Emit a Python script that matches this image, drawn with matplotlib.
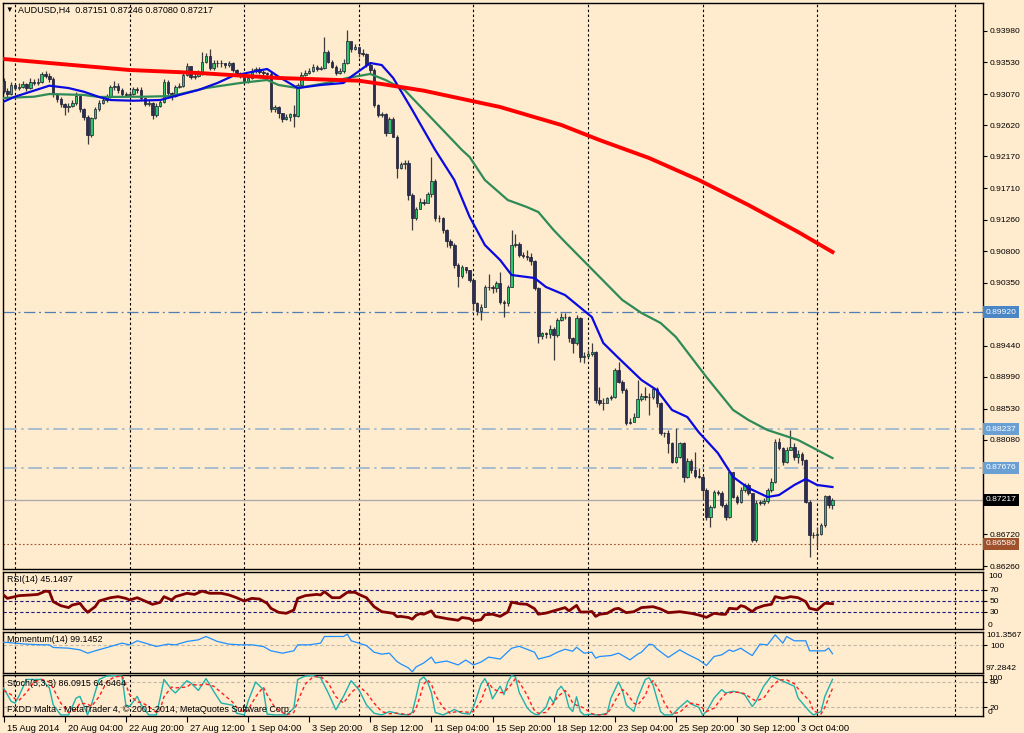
import matplotlib
matplotlib.use("Agg")
import matplotlib.pyplot as plt
from matplotlib.transforms import ScaledTranslation

plt.rcParams['font.family'] = ['Liberation Sans', 'DejaVu Sans']

# ---------------- data ----------------
first_open = 0.93264
closes = [
    0.93119, 0.93071, 0.93201, 0.93163, 0.93177, 0.93215, 0.93153, 0.93249, 0.93225, 0.93249,
    0.93360, 0.93331, 0.93283, 0.93071, 0.92994, 0.92927, 0.92879, 0.92898, 0.92936, 0.93042,
    0.92850, 0.92734, 0.92480, 0.92720, 0.92850, 0.92946, 0.92985, 0.93023, 0.93167, 0.93187,
    0.93129, 0.93071, 0.93062, 0.93071, 0.93143, 0.93129, 0.93009, 0.92927, 0.92946, 0.92768,
    0.92898, 0.92961, 0.93249, 0.93081, 0.93042, 0.93177, 0.93187, 0.93345, 0.93480, 0.93312,
    0.93331, 0.93379, 0.93538, 0.93620, 0.93442, 0.93523, 0.93514, 0.93523, 0.93490, 0.93514,
    0.93417, 0.93379, 0.93331, 0.93249, 0.93297, 0.93408, 0.93427, 0.93393, 0.93369, 0.93355,
    0.92850, 0.92879, 0.92792, 0.92706, 0.92734, 0.92778, 0.92754, 0.93201, 0.93345, 0.93369,
    0.93408, 0.93456, 0.93437, 0.93446, 0.93682, 0.93538, 0.93466, 0.93379, 0.93408, 0.93514,
    0.93841, 0.93716, 0.93754, 0.93658, 0.93648, 0.93490, 0.93417, 0.92912, 0.92768, 0.92783,
    0.92504, 0.92706, 0.92455, 0.91999, 0.92061, 0.92080, 0.91614, 0.91277, 0.91407, 0.91518,
    0.91503, 0.91628, 0.91820, 0.91277, 0.91277, 0.91109, 0.90955, 0.90892, 0.90604, 0.90445,
    0.90570, 0.90531, 0.90387, 0.90050, 0.89945, 0.90002, 0.90281, 0.90291, 0.90267, 0.90339,
    0.90074, 0.90050, 0.90291, 0.90892, 0.90907, 0.90748, 0.90733, 0.90724, 0.90666, 0.90267,
    0.89579, 0.89617, 0.89603, 0.89675, 0.89593, 0.89810, 0.89848, 0.89857, 0.89545, 0.89473,
    0.89833, 0.89280, 0.89290, 0.89319, 0.89352, 0.88655, 0.88617, 0.88607, 0.88679, 0.88693,
    0.89088, 0.88920, 0.88799, 0.88318, 0.88342, 0.88414, 0.88665, 0.88718, 0.88703, 0.88693,
    0.88809, 0.88607, 0.88174, 0.88174, 0.88030, 0.87765, 0.87837, 0.88030, 0.87549, 0.87780,
    0.87645, 0.87558, 0.87549, 0.87356, 0.86972, 0.87106, 0.87323, 0.87318, 0.87140, 0.86972,
    0.87621, 0.87260, 0.87188, 0.87357, 0.87424, 0.87308, 0.86635, 0.87174, 0.87174, 0.87203,
    0.87357, 0.87477, 0.88054, 0.87958, 0.87765, 0.87934, 0.87972, 0.87838, 0.87876, 0.87789,
    0.87188, 0.86707, 0.86707, 0.86722, 0.86852, 0.87270, 0.87140, 0.87217]
highs = [
    0.93297, 0.93153, 0.93249, 0.93215, 0.93235, 0.93264, 0.93235, 0.93297, 0.93283, 0.93297,
    0.93393, 0.93408, 0.93369, 0.93312, 0.93090, 0.93023, 0.92946, 0.92936, 0.92985, 0.93105,
    0.93057, 0.92864, 0.92768, 0.92744, 0.92888, 0.92985, 0.93033, 0.93071, 0.93201, 0.93264,
    0.93225, 0.93153, 0.93105, 0.93119, 0.93177, 0.93177, 0.93177, 0.93009, 0.92985, 0.92961,
    0.92936, 0.92994, 0.93283, 0.93273, 0.93105, 0.93201, 0.93225, 0.93369, 0.93514, 0.93466,
    0.93379, 0.93417, 0.93682, 0.93658, 0.93716, 0.93562, 0.93562, 0.93562, 0.93523, 0.93552,
    0.93538, 0.93427, 0.93393, 0.93345, 0.93331, 0.93442, 0.93466, 0.93456, 0.93417, 0.93393,
    0.93393, 0.92912, 0.92898, 0.92802, 0.92778, 0.92802, 0.92912, 0.93225, 0.93393, 0.93417,
    0.93442, 0.93504, 0.93490, 0.93475, 0.93898, 0.93706, 0.93562, 0.93490, 0.93442, 0.93571,
    0.93995, 0.93826, 0.93793, 0.93682, 0.93716, 0.93668, 0.93523, 0.93442, 0.92927, 0.92816,
    0.92802, 0.92744, 0.92734, 0.92480, 0.92095, 0.92119, 0.92119, 0.91638, 0.91445, 0.91566,
    0.91551, 0.91662, 0.92167, 0.91840, 0.91325, 0.91301, 0.91118, 0.90974, 0.90916, 0.90628,
    0.90604, 0.90579, 0.90531, 0.90363, 0.90074, 0.90041, 0.90315, 0.90474, 0.90315, 0.90377,
    0.90507, 0.90098, 0.90315, 0.91109, 0.91051, 0.90940, 0.90796, 0.90820, 0.90772, 0.90676,
    0.90291, 0.89642, 0.89642, 0.89738, 0.89714, 0.89834, 0.89906, 0.89906, 0.89867, 0.89569,
    0.89882, 0.89857, 0.89352, 0.89376, 0.89473, 0.89367, 0.88838, 0.88679, 0.88703, 0.88727,
    0.89112, 0.89208, 0.88944, 0.88823, 0.88390, 0.88463, 0.88944, 0.88751, 0.88847, 0.88751,
    0.88847, 0.88838, 0.88631, 0.88198, 0.88222, 0.88054, 0.88246, 0.88054, 0.88054, 0.87813,
    0.87799, 0.87909, 0.87669, 0.87573, 0.87381, 0.87140, 0.87357, 0.87357, 0.87347, 0.87164,
    0.87645, 0.87621, 0.87284, 0.87405, 0.87462, 0.87453, 0.87308, 0.87212, 0.87212, 0.87236,
    0.87381, 0.87525, 0.88088, 0.88102, 0.87982, 0.87982, 0.88222, 0.88030, 0.87934, 0.87910,
    0.87799, 0.87212, 0.86755, 0.86827, 0.86876, 0.87284, 0.87284, 0.87246]
lows = [
    0.93090, 0.93023, 0.93057, 0.93129, 0.93129, 0.93153, 0.93119, 0.93139, 0.93196, 0.93201,
    0.93225, 0.93297, 0.93249, 0.93033, 0.92961, 0.92879, 0.92768, 0.92816, 0.92879, 0.92912,
    0.92816, 0.92696, 0.92350, 0.92455, 0.92706, 0.92831, 0.92927, 0.92961, 0.93009, 0.93129,
    0.93090, 0.93033, 0.93033, 0.93042, 0.93052, 0.93090, 0.92985, 0.92898, 0.92898, 0.92706,
    0.92744, 0.92879, 0.92936, 0.93057, 0.92985, 0.93023, 0.93153, 0.93167, 0.93331, 0.93283,
    0.93283, 0.93312, 0.93345, 0.93523, 0.93417, 0.93417, 0.93466, 0.93456, 0.93442, 0.93466,
    0.93393, 0.93345, 0.93297, 0.93225, 0.93235, 0.93283, 0.93369, 0.93360, 0.93331, 0.93321,
    0.92816, 0.92816, 0.92720, 0.92672, 0.92696, 0.92686, 0.92600, 0.92744, 0.93187, 0.93331,
    0.93360, 0.93393, 0.93408, 0.93417, 0.93427, 0.93514, 0.93442, 0.93345, 0.93360, 0.93379,
    0.93504, 0.93682, 0.93706, 0.93600, 0.93620, 0.93466, 0.93379, 0.92888, 0.92734, 0.92734,
    0.92465, 0.92513, 0.92446, 0.91854, 0.91984, 0.91984, 0.91542, 0.91109, 0.91253, 0.91445,
    0.91465, 0.91541, 0.91590, 0.91243, 0.91229, 0.91060, 0.90868, 0.90844, 0.90555, 0.90281,
    0.90411, 0.90483, 0.90363, 0.89954, 0.89882, 0.89810, 0.89993, 0.90243, 0.90195, 0.90219,
    0.90041, 0.89858, 0.90012, 0.90281, 0.90868, 0.90714, 0.90700, 0.90676, 0.90604, 0.90243,
    0.89483, 0.89531, 0.89545, 0.89545, 0.89233, 0.89569, 0.89800, 0.89819, 0.89497, 0.89328,
    0.89449, 0.89208, 0.89184, 0.89280, 0.89290, 0.88617, 0.88583, 0.88511, 0.88607, 0.88655,
    0.88679, 0.88895, 0.88751, 0.88294, 0.88309, 0.88357, 0.88405, 0.88645, 0.88655, 0.88439,
    0.88665, 0.88559, 0.88150, 0.88126, 0.87885, 0.87741, 0.87751, 0.87813, 0.87477, 0.87525,
    0.87597, 0.87525, 0.87525, 0.87212, 0.86924, 0.86827, 0.87092, 0.87284, 0.87116, 0.86924,
    0.86948, 0.87236, 0.87155, 0.87164, 0.87333, 0.87284, 0.86611, 0.86611, 0.87140, 0.87140,
    0.87174, 0.87333, 0.87453, 0.87934, 0.87717, 0.87741, 0.87934, 0.87789, 0.87741, 0.87717,
    0.87164, 0.86395, 0.86659, 0.86539, 0.86707, 0.86827, 0.87092, 0.87080]

# moving averages read at sample bars
red_idx = [0, 12, 33, 51, 72, 93, 99, 110, 130, 146, 156, 169, 182, 195, 208, 217]
red_val = [0.93576, 0.93518, 0.93417, 0.93374, 0.93302, 0.93263, 0.93215, 0.93119,
           0.92883, 0.92624, 0.92407, 0.92147, 0.91830, 0.91469, 0.91080, 0.90791]
blue_idx = [0, 3, 12, 17, 21, 25, 28, 34, 41, 45, 51, 56, 60, 64, 69, 72, 77, 83, 89, 91,
            96, 99, 102, 107, 110, 113, 118, 122, 126, 130, 133, 139, 142, 147, 154, 157, 161,
            167, 171, 175, 179, 182, 187, 191, 195, 200, 203, 207, 210, 213, 217]
blue_val = [0.92960, 0.93032, 0.93191, 0.93157, 0.93104, 0.93028, 0.92984, 0.92974, 0.92984,
            0.93042, 0.93129, 0.93230, 0.93331, 0.93378, 0.93432, 0.93321, 0.93157, 0.93201,
            0.93230, 0.93321, 0.93518, 0.93489, 0.93302, 0.92840, 0.92551, 0.92263, 0.91830,
            0.91300, 0.90892, 0.90675, 0.90459, 0.90416, 0.90286, 0.90170, 0.89853, 0.89478,
            0.89261, 0.88944, 0.88799, 0.88511, 0.88410, 0.88190, 0.87890, 0.87544, 0.87385,
            0.87256, 0.87284, 0.87429, 0.87515, 0.87429, 0.87400]
green_idx = [0, 8, 12, 21, 25, 37, 44, 53, 62, 69, 72, 77, 85, 90, 96, 100, 105, 110, 120,
             122, 126, 132, 137, 140, 144, 147, 162, 167, 172, 176, 184, 191, 195, 200, 204,
             208, 213, 217]
green_val = [0.93013, 0.93032, 0.93071, 0.93057, 0.93028, 0.93032, 0.93042, 0.93157, 0.93230,
             0.93273, 0.93201, 0.93157, 0.93234, 0.93302, 0.93360, 0.93273, 0.93129, 0.92840,
             0.92263, 0.92162, 0.91830, 0.91541, 0.91440, 0.91368, 0.91108, 0.90935, 0.90098,
             0.89911, 0.89767, 0.89565, 0.88987, 0.88511, 0.88367, 0.88222, 0.88150, 0.88078,
             0.87934, 0.87818]

rsi_idx = [0, 1, 3, 4, 7, 9, 11, 12, 13, 15, 17, 18, 20, 21, 22, 24, 25, 28, 30, 32, 33, 35,
           37, 39, 41, 42, 44, 45, 48, 50, 52, 54, 57, 59, 61, 63, 65, 67, 69, 70, 72, 74, 76,
           77, 79, 82, 83, 84, 86, 88, 90, 92, 93, 95, 97, 99, 102, 103, 104, 106, 107, 108,
           109, 110, 112, 113, 116, 119, 120, 122, 123, 125, 126, 128, 130, 132, 133, 135, 137,
           139, 140, 142, 145, 147, 148, 150, 151, 153, 154, 155, 156, 158, 160, 161, 163, 165,
           167, 170, 172, 174, 177, 180, 182, 184, 186, 188, 189, 190, 192, 193, 194, 196, 197,
           199, 201, 202, 204, 205, 206, 208, 210, 211, 213, 214, 215, 217]
rsi_val = [60.9, 54.8, 57.9, 59.7, 60.9, 62, 68, 67, 48.8, 41.5, 38, 42.7, 45.8, 36.7, 29.4,
           39.7, 50, 56, 57.9, 54.8, 51.8, 56, 50, 43.9, 47.6, 57.9, 51.8, 57.9, 64, 62, 68, 64,
           64, 61, 56, 50, 54.8, 53.6, 45.8, 36.7, 29.4, 27.6, 33.6, 54.8, 59.7, 62, 61, 67, 56,
           56, 65.8, 65.8, 62, 56, 39.7, 30.6, 27.6, 21.5, 22, 20, 17, 24, 27, 26, 32, 22, 18,
           15, 20, 18, 14, 16, 25, 26, 22, 30, 48, 45, 44, 36, 26, 28, 34, 38, 32, 42, 30, 30,
           31, 22, 25.8, 27.6, 35.5, 36.7, 28.8, 30.6, 38, 39.7, 35.5, 28.8, 30.6, 27.6, 24.5,
           20.3, 27.6, 25.8, 25.8, 36.7, 35.5, 41.5, 39.7, 30.6, 36.7, 41.5, 44, 57.9, 54.8, 56,
           57.9, 56, 48.8, 36.7, 33.6, 39.7, 45.8, 45.1497]

mom_idx = [0, 3, 6, 10, 12, 13, 17, 20, 22, 24, 28, 31, 33, 35, 38, 40, 43, 45, 48, 51, 53,
           56, 59, 62, 65, 68, 70, 73, 76, 77, 80, 83, 84, 89, 90, 91, 93, 95, 97, 99, 101,
           103, 104, 106, 107, 108, 110, 112, 113, 116, 119, 121, 123, 125, 127, 130, 133, 135,
           137, 139, 140, 143, 145, 147, 149, 150, 152, 154, 155, 156, 159, 161, 164, 166, 167,
           169, 170, 171, 174, 177, 179, 182, 184, 186, 188, 190, 191, 193, 194, 196, 198, 200,
           202, 204, 205, 207, 209, 210, 211, 215, 216, 217]
mom_val = [100.32, 100.22, 100.12, 100.05, 100.05, 99.78, 99.71, 99.54, 99.20, 99.44, 99.88,
           100.22, 100.05, 100.46, 100.12, 99.88, 100.12, 100.05, 100.39, 100.56, 100.90, 100.39,
           100.12, 100.05, 100.05, 99.88, 99.44, 99.20, 99.44, 100.05, 100.05, 100.22, 100.90,
           100.90, 101.14, 100.46, 100.22, 99.98, 99.30, 99.10, 99.20, 98.35, 98.1, 97.7, 97.3,
           97.8, 98.2, 98.8, 98.2, 98.4, 98.0, 98.5, 98.0, 98.3, 98.8, 98.6, 99.7, 99.9, 99.6,
           99.3, 98.6, 98.9, 99.3, 99.6, 99.4, 99.8, 99.2, 99.3, 98.7, 98.86, 98.96, 99.20,
           98.52, 99.10, 99.30, 100.12, 100.05, 99.64, 98.76, 99.54, 99.10, 98.52, 97.95, 98.86,
           99.03, 99.54, 99.37, 99.71, 99.44, 98.96, 100.12, 100.05, 101.07, 100.22, 100.90,
           100.46, 100.46, 100.46, 99.44, 99.44, 99.71, 99.1452]

stk_idx = [0, 2, 3, 4, 6, 8, 10, 12, 13, 15, 17, 19, 20, 22, 23, 25, 27, 29, 31, 32, 33, 35,
           36, 38, 40, 41, 42, 44, 45, 48, 49, 51, 53, 55, 57, 60, 61, 63, 64, 66, 68, 69, 71,
           74, 76, 77, 79, 81, 83, 85, 87, 89, 91, 93, 95, 97, 99, 101, 103, 104, 106, 107,
           108, 109, 110, 111, 112, 113, 115, 117, 118, 120, 122, 123, 125, 126, 127, 128, 130,
           131, 132, 133, 134, 135, 137, 138, 139, 140, 142, 143, 144, 145, 146, 147, 148, 149,
           150, 151, 152, 154, 155, 156, 158, 159, 161, 162, 163, 165, 166, 168, 169, 170, 172,
           173, 175, 177, 179, 180, 182, 183, 184, 186, 188, 189, 191, 193, 194, 196, 197, 199,
           201, 203, 205, 207, 208, 211, 212, 214, 215, 217]
stk_k = [66, 34, 30, 46, 86, 86, 86, 66, 26, 2, 2, 42, 46, 2, 26, 86, 94, 95, 94, 26, 22, 46,
         26, 2, 2, 42, 86, 62, 54, 83, 78, 60, 88, 58, 30, 25, 6, 2, 34, 80, 62, 4, 2, 2, 18,
         86, 94, 95, 90, 54, 14, 46, 83, 62, 26, 6, 2, 10, 6, 3, 2, 8, 45, 85, 92, 80, 55, 8,
         2, 10, 15, 6, 4, 20, 75, 88, 70, 40, 70, 50, 80, 95, 92, 55, 20, 10, 4, 2, 20, 45, 30,
         60, 70, 55, 20, 10, 45, 10, 2, 4, 2, 2, 6, 42, 80, 60, 26, 10, 42, 86, 90, 74, 10, 2,
         2, 20, 36, 28, 20, 2, 10, 42, 62, 54, 58, 54, 50, 22, 34, 70, 94, 86, 78, 70, 42, 10,
         2, 10, 46, 86.0915]
stk_d = [60, 50, 40, 36, 55, 80, 86, 80, 65, 30, 8, 15, 30, 28, 22, 45, 80, 92, 94, 75, 50,
         32, 32, 22, 8, 15, 45, 68, 66, 68, 75, 72, 75, 70, 55, 32, 20, 8, 14, 45, 68, 50, 20,
         2, 8, 35, 75, 92, 93, 78, 45, 30, 55, 70, 55, 30, 10, 5, 6, 5, 3, 4, 18, 45, 75, 85,
         75, 50, 20, 5, 9, 10, 8, 10, 35, 60, 78, 65, 55, 55, 65, 75, 88, 80, 50, 30, 12, 6, 8,
         20, 30, 45, 52, 60, 48, 30, 25, 22, 18, 5, 3, 2, 4, 18, 50, 62, 55, 30, 25, 48, 72,
         83, 55, 30, 5, 8, 25, 30, 26, 18, 10, 18, 42, 52, 56, 55, 52, 40, 35, 42, 68, 85, 85,
         76, 64, 35, 12, 4, 20, 64.6464]

price_ticks = [0.93980, 0.93530, 0.93070, 0.92620, 0.92170, 0.91710, 0.91260, 0.90800,
               0.90350, 0.89440, 0.88990, 0.88530, 0.88080, 0.86720, 0.86260]
level_prices = [0.89920, 0.88237, 0.87676, 0.87217, 0.86580]
level_labels = ['0.89920', '0.88237', '0.87676', '0.87217', '0.86580']
week_sep_idx = [3, 33, 63, 93, 123, 153, 183, 213, 249]
xlabel_idx = [0, 16, 32, 48, 64, 80, 96, 112, 128, 144, 160, 176, 192, 208]
xlabel_txt = ['15 Aug 2014', '20 Aug 04:00', '22 Aug 20:00', '27 Aug 12:00', '1 Sep 04:00',
              '3 Sep 20:00', '8 Sep 12:00', '11 Sep 04:00', '15 Sep 20:00', '18 Sep 12:00',
              '23 Sep 04:00', '25 Sep 20:00', '30 Sep 12:00', '3 Oct 04:00']

# ---------------- figure ----------------
W, H = 1024, 733
BG = '#FFEBCD'
fig = plt.figure(figsize=(W / 100, H / 100), dpi=100)
fig.patch.set_facecolor(BG)


def add_px(x0, y0, x1, y1):
    a = fig.add_axes([x0 / W, 1 - y1 / H, (x1 - x0) / W, (y1 - y0) / H])
    a.set_facecolor(BG)
    for s in a.spines.values():
        s.set_color('black')
        s.set_linewidth(1.0)
    return a


LX, RX = 2.5, 983
ax = add_px(LX, 3, RX, 569)
rax = add_px(LX, 572, RX, 629)
mx = add_px(LX, 632, RX, 673)
sx = add_px(LX, 675, RX, 716)
FS = 6.1
for a in (ax, rax, mx, sx):
    a.set_xlim(-0.27, 256.4)
    a.yaxis.tick_right()
    a.tick_params(axis='y', direction='out', length=3, width=0.8, pad=2,
                  labelsize=FS, colors='black')
    a.tick_params(axis='x', length=0)
    a.set_xticks([])
    for xs in week_sep_idx:
        a.axvline(xs, color='black', lw=0.8, ls=(0, (2.2, 2.2)), zorder=1)

# ---- main price panel ----
ax.set_ylim(0.86217, 0.94384)
n = len(closes)
opens = [first_open] + closes[:-1]
idx = list(range(n))
ax.vlines(idx, lows, highs, color='#3c3c3c', lw=0.9, zorder=3)
bottoms, heights, cols = [], [], []
for o, c in zip(opens, closes):
    bottoms.append(min(o, c))
    heights.append(max(abs(c - o), 0.00003))
    cols.append('#2fc46e' if c > o else '#2c2d55')
ax.bar(idx, heights, bottom=bottoms, width=0.66, color=cols, edgecolor='#1b1b30',
       linewidth=0.5, zorder=4)

ax.plot(green_idx, green_val, color='#2e8b57', lw=1.6, zorder=5, solid_joinstyle='round')
ax.plot(blue_idx, blue_val, color='#0a0ae0', lw=1.6, zorder=6, solid_joinstyle='round')
ax.plot(red_idx, red_val, color='#ff0000', lw=2.8, zorder=6, solid_joinstyle='round')

ax.axhline(level_prices[0], color='#4f7fb5', lw=0.9, ls=(0, (9, 3, 1.5, 3)), zorder=2)
ax.axhline(level_prices[1], color='#8fb0cf', lw=1.1, ls=(0, (9, 3, 1.5, 3)), zorder=2)
ax.axhline(level_prices[2], color='#8fb0cf', lw=1.1, ls=(0, (9, 3, 1.5, 3)), zorder=2)
ax.axhline(level_prices[3], color='#a8a8a8', lw=0.9, zorder=2)
ax.axhline(level_prices[4], color='#a0522d', lw=0.8, ls=(0, (1.5, 2)), zorder=2)

ax.set_yticks(price_ticks)
ax.set_yticklabels(['%.5f' % v for v in price_ticks])

box_cols = ['#4a86c5', '#6a9fd4', '#6a9fd4', '#000000', '#a0522d']
ytr = ax.get_yaxis_transform()
for p, t, bc in zip(level_prices, level_labels, box_cols):
    ax.text(1.0025, p, t, transform=ytr, ha='left', va='center', fontsize=FS, color='white',
            zorder=20, clip_on=False,
            bbox=dict(boxstyle='square,pad=0.3', facecolor=bc, edgecolor='none'))

# ---- RSI panel ----
rax.set_ylim(-0.9, 102.7)
for lv in (70, 50, 30):
    rax.axhline(lv, color='#1c1c80', lw=0.8, ls=(0, (3, 2)), zorder=2)
rax.plot(rsi_idx, rsi_val, color='#800000', lw=2.0, zorder=5)
rax.set_yticks([70, 50, 30])
rax.set_yticklabels(['70', '50', '30'])
rtr = rax.get_yaxis_transform()
rax.text(1.005, 100, '100', transform=rtr, ha='left', va='top', fontsize=FS, clip_on=False)
rax.text(1.005, 0, '0', transform=rtr, ha='left', va='bottom', fontsize=FS, clip_on=False)

# ---- Momentum panel ----
mx.set_ylim(97.18, 101.3567)
mx.axhline(100, color='#c0b8a8', lw=0.8, ls=(0, (3, 2)), zorder=2)
mx.plot(mom_idx, mom_val, color='#1e90ff', lw=0.9, zorder=5)
mx.set_yticks([100])
mx.set_yticklabels(['100'])
mtr = mx.get_yaxis_transform()
mx.text(1.003, 101.3567, '101.3567', transform=mtr, ha='left', va='top', fontsize=FS,
        clip_on=False)
mx.text(1.003, 97.2842, '97.2842', transform=mtr, ha='left', va='bottom', fontsize=FS,
        clip_on=False)

# ---- Stochastic panel ----
sx.set_ylim(-0.5, 96.5)
for lv in (80, 20):
    sx.axhline(lv, color='#c0b8a8', lw=0.8, ls=(0, (3, 2)), zorder=2)
sx.plot(stk_idx, stk_k, color='#20b2aa', lw=1.0, zorder=5)
sx.plot(stk_idx, stk_d, color='#ff2020', lw=1.0, ls=(0, (2.5, 2)), zorder=6)
sx.set_yticks([80, 20])
sx.set_yticklabels(['80', '20'])
str_ = sx.get_yaxis_transform()
sx.text(1.005, 96.5, '100', transform=str_, ha='left', va='top', fontsize=FS, clip_on=False)
sx.text(1.005, -0.5, '0', transform=str_, ha='left', va='bottom', fontsize=FS, clip_on=False)

# x tick labels
sx.set_xticks(xlabel_idx)
sx.set_xticklabels(xlabel_txt)
sx.tick_params(axis='x', direction='out', length=4, width=0.8, pad=1.5, labelsize=FS + 0.6)
off = ScaledTranslation(3 / 100, 0, fig.dpi_scale_trans)
for lbl in sx.get_xticklabels():
    lbl.set_ha('left')
    lbl.set_transform(lbl.get_transform() + off)

# texts
fig.text(5 / W, 1 - 10 / H, '\u25bc', fontsize=5.5, va='center', ha='left')
fig.text(18 / W, 1 - 10 / H, 'AUDUSD,H4  0.87151 0.87246 0.87080 0.87217', fontsize=6.5,
         va='center', ha='left')
fig.text(7 / W, 1 - 580 / H, 'RSI(14) 45.1497', fontsize=6.4, va='center', ha='left')
fig.text(7 / W, 1 - 640 / H, 'Momentum(14) 99.1452', fontsize=6.4, va='center', ha='left')
fig.text(7 / W, 1 - 683 / H, 'Stoch(5,3,3) 86.0915 64.6464', fontsize=6.4, va='center',
         ha='left')
fig.text(7 / W, 1 - 709 / H,
         'FXDD Malta - MetaTrader 4, \u00a9 2001-2014, MetaQuotes Software Corp.',
         fontsize=6.5, va='center', ha='left')

fig.savefig('out.png', dpi=100, facecolor=BG)
